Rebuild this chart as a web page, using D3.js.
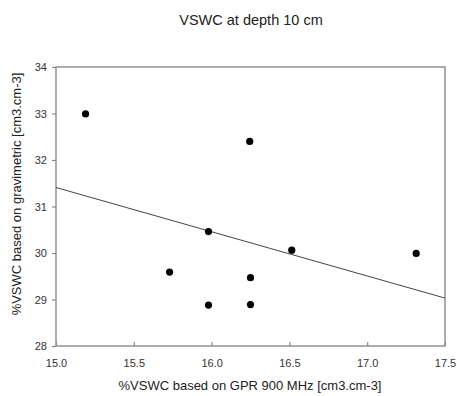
<!DOCTYPE html>
<html>
<head>
<meta charset="utf-8">
<script src="https://cdn.jsdelivr.net/npm/d3@7"></script>
<style>
  body { margin: 0; background: #fff; }
  svg { font-family: "Liberation Sans", Arial, sans-serif; }
</style>
</head>
<body>
<div id="chart"></div>
<script>
// GPR 900 MHz vs gravimetric VSWC, depth 10 cm
var gpr = [15.19, 15.73, 15.98, 15.98, 16.245, 16.25, 16.25, 16.515, 17.315];
var grav = [32.99, 29.59, 30.46, 28.88, 32.40, 29.47, 28.89, 30.06, 29.99];
var xTicks = [15.0, 15.5, 16.0, 16.5, 17.0, 17.5];
var yTicks = [28, 29, 30, 31, 32, 33, 34];

var w = 457, h = 396;
var mLeft = 56, mRight = 445, mTop = 67, mBottom = 346;

var x = d3.scaleLinear().domain([15, 17.5]).range([mLeft, mRight]);
var y = d3.scaleLinear().domain([28, 34]).range([mBottom, mTop]);

var svg = d3.select("#chart")
    .append("svg")
    .attr("width", w)
    .attr("height", h);

// title
svg.append("text")
    .attr("x", 251)
    .attr("y", 25)
    .attr("text-anchor", "middle")
    .style("font-size", "14.5px")
    .style("fill", "#222")
    .text("VSWC at depth 10 cm");

// axes
var xAxis = svg.append("g")
    .attr("transform", "translate(0," + mBottom + ")")
    .call(d3.axisBottom(x).tickValues(xTicks).tickFormat(d3.format(".1f"))
        .tickSizeInner(-4).tickSizeOuter(0).tickPadding(13));

var yAxis = svg.append("g")
    .attr("transform", "translate(" + mLeft + ",0)")
    .call(d3.axisLeft(y).tickValues(yTicks).tickFormat(d3.format("d"))
        .tickSizeInner(4).tickSizeOuter(0).tickPadding(5));

[xAxis, yAxis].forEach(function (a) {
    a.select(".domain").remove();
    a.selectAll("line").attr("stroke", "#888").attr("stroke-width", 1.2);
    a.selectAll("text").style("font-size", "11px").attr("fill", "#333");
});

// frame
svg.append("rect")
    .attr("x", mLeft)
    .attr("y", mTop)
    .attr("width", mRight - mLeft)
    .attr("height", mBottom - mTop)
    .attr("fill", "none")
    .attr("stroke", "#8a8a8a")
    .attr("stroke-width", 1.4);

// linear regression
var mx = d3.mean(gpr), my = d3.mean(grav);
var sxy = d3.sum(gpr, function (d, i) { return (d - mx) * (grav[i] - my); });
var sxx = d3.sum(gpr, function (d) { return (d - mx) * (d - mx); });
var slope = sxy / sxx, icpt = my - slope * mx;

svg.append("line")
    .attr("x1", x(15))
    .attr("y1", y(icpt + slope * 15))
    .attr("x2", x(17.5))
    .attr("y2", y(icpt + slope * 17.5))
    .attr("stroke", "#444")
    .attr("stroke-width", 1);

// points
svg.append("g")
    .selectAll("circle")
    .data(gpr)
    .enter()
    .append("circle")
    .attr("cx", function (d) { return x(d); })
    .attr("cy", function (d, i) { return y(grav[i]); })
    .attr("r", 3.6)
    .attr("fill", "#000");

// axis labels
svg.append("text")
    .attr("x", 250)
    .attr("y", 390)
    .attr("text-anchor", "middle")
    .style("font-size", "13px")
    .style("fill", "#222")
    .text("%VSWC based on GPR 900 MHz [cm3.cm-3]");

svg.append("text")
    .attr("transform", "translate(21,194) rotate(-90)")
    .attr("text-anchor", "middle")
    .style("font-size", "13px")
    .style("fill", "#222")
    .text("%VSWC based on gravimetric [cm3.cm-3]");
</script>
</body>
</html>
